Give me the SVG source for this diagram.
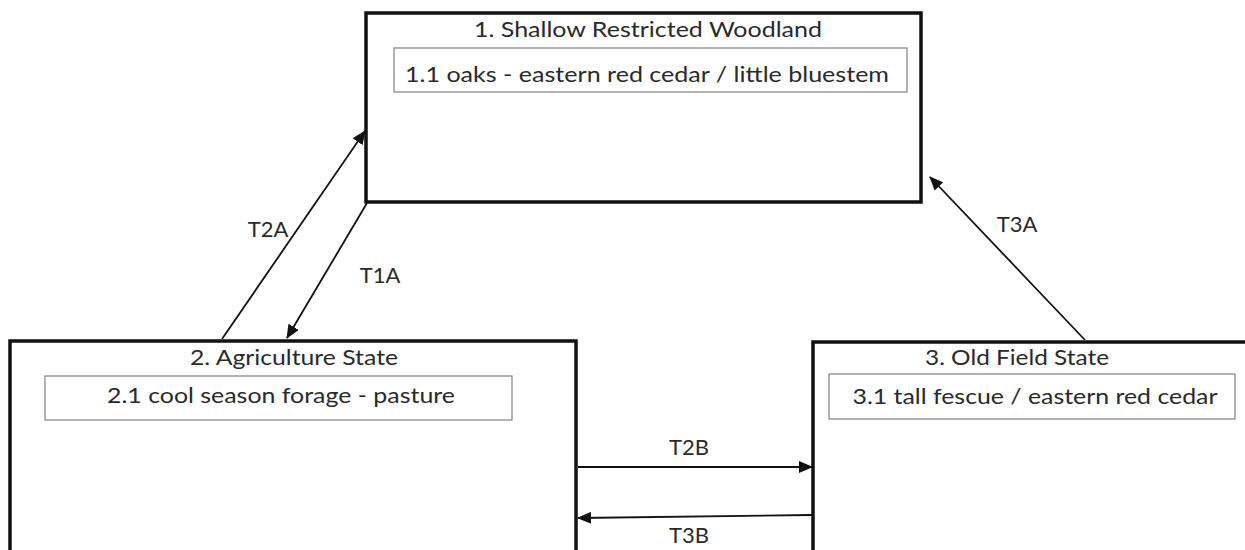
<svg xmlns="http://www.w3.org/2000/svg" width="1245" height="550" viewBox="0 0 1245 550">
<style>
.state{fill:#fff;stroke:#111;stroke-width:3.5}
.phase{fill:#fff;stroke:#8a8a8a;stroke-width:1.3}
.t{font-family:Lato,"Liberation Sans",sans-serif;font-size:22px;fill:#2a2a2a;text-anchor:middle}
.conn{stroke:#111;stroke-width:1.8;fill:none}
</style>
<defs>
<marker id="ah" markerUnits="userSpaceOnUse" markerWidth="14" markerHeight="12" refX="13" refY="6" orient="auto">
<path d="M0,0 L14,6 L0,12 Z" fill="#111"/>
</marker>
</defs>
<rect width="1245" height="550" fill="#fff"/>
<g id="state1">
<rect class="state" x="366" y="13" width="555" height="189"/>
<text class="t" x="648" y="37" textLength="348" lengthAdjust="spacingAndGlyphs">1. Shallow Restricted Woodland</text>
<rect class="phase" x="394" y="48" width="513" height="44"/>
<text class="t" x="647" y="82" textLength="484" lengthAdjust="spacingAndGlyphs">1.1 oaks - eastern red cedar / little bluestem</text>
</g>
<g id="state2">
<rect class="state" x="10" y="341" width="566" height="225"/>
<text class="t" x="294" y="365" textLength="208" lengthAdjust="spacingAndGlyphs">2. Agriculture State</text>
<rect class="phase" x="45" y="376" width="467" height="44"/>
<text class="t" x="281" y="403" textLength="348" lengthAdjust="spacingAndGlyphs">2.1 cool season forage - pasture</text>
</g>
<g id="state3">
<rect class="state" x="813" y="342" width="445" height="225"/>
<text class="t" x="1017" y="365" textLength="184" lengthAdjust="spacingAndGlyphs">3. Old Field State</text>
<rect class="phase" x="829" y="374" width="406" height="45"/>
<text class="t" x="1035" y="404" textLength="365" lengthAdjust="spacingAndGlyphs">3.1 tall fescue / eastern red cedar</text>
</g>
<g id="connectors">
<line class="conn" x1="222" y1="339" x2="365" y2="131" marker-end="url(#ah)"/>
<line class="conn" x1="367" y1="203" x2="287" y2="338" marker-end="url(#ah)"/>
<line class="conn" x1="1085" y1="340" x2="930" y2="177" marker-end="url(#ah)"/>
<line class="conn" x1="578" y1="467" x2="812" y2="467" marker-end="url(#ah)"/>
<line class="conn" x1="812" y1="515" x2="578" y2="518" marker-end="url(#ah)"/>
<text class="t" x="268" y="237">T2A</text>
<text class="t" x="380" y="283">T1A</text>
<text class="t" x="1017" y="232">T3A</text>
<text class="t" x="689" y="455">T2B</text>
<text class="t" x="689" y="543">T3B</text>
</g>
</svg>
